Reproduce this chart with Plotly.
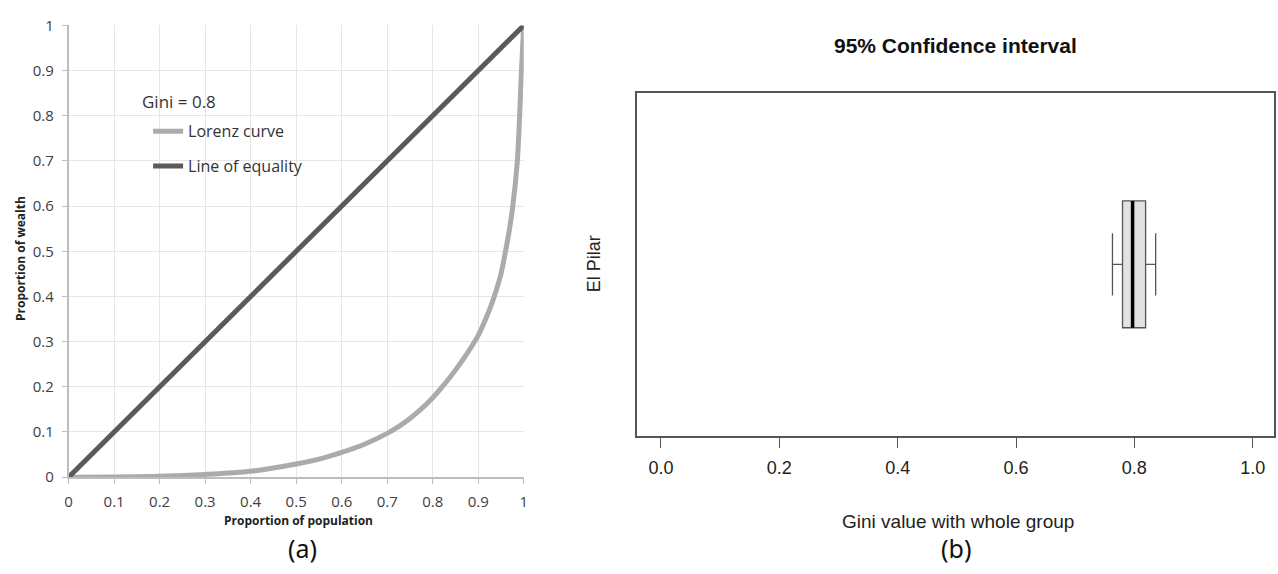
import plotly.graph_objects as go

# ---- Data: panel (a) Lorenz curve ----
pop_share = [0, 0.1, 0.2, 0.3, 0.4, 0.5, 0.55, 0.6, 0.65, 0.7, 0.725, 0.75, 0.775, 0.8,
             0.825, 0.85, 0.875, 0.9, 0.915, 0.93, 0.94, 0.95, 0.96, 0.968, 0.976, 0.986,
             0.991, 0.995, 1.0]
wealth_share = [0, 0.0005, 0.002, 0.006, 0.013, 0.029, 0.04, 0.055, 0.073, 0.097, 0.112,
                0.130, 0.151, 0.176, 0.205, 0.237, 0.273, 0.314, 0.347, 0.385, 0.415, 0.45,
                0.5, 0.545, 0.6, 0.7, 0.8, 0.9, 1.0]
equality_x = [0, 1]
equality_y = [0, 1]
gini_label = "Gini = 0.8"
axis_ticks_a = [0, 0.1, 0.2, 0.3, 0.4, 0.5, 0.6, 0.7, 0.8, 0.9, 1]
tick_text_a = ["0", "0.1", "0.2", "0.3", "0.4", "0.5", "0.6", "0.7", "0.8", "0.9", "1"]

# ---- Data: panel (b) 95% CI of Gini ----
group_name = "El Pilar"
ci_lower = 0.763
ci_q1 = 0.780
ci_median = 0.797
ci_q3 = 0.819
ci_upper = 0.836
ticks_b = [0.0, 0.2, 0.4, 0.6, 0.8, 1.0]

W, H = 1278, 574
BOX_WIDTH = 0.37

def px_x(p):
    return p / W

def px_y(p):
    return 1 - p / H

fig = go.Figure()

fig.add_trace(go.Scatter(
    x=pop_share, y=wealth_share, mode="lines", name="Lorenz curve",
    line=dict(color="#ababab", width=5, shape="spline", smoothing=0.8),
    xaxis="x", yaxis="y", legendgroup="a", showlegend=True))
fig.add_trace(go.Scatter(
    x=equality_x, y=equality_y, mode="lines", name="Line of equality",
    line=dict(color="#5a5a5a", width=5),
    xaxis="x", yaxis="y", legendgroup="b", showlegend=True))

fig.add_trace(go.Box(
    y=[0], q1=[ci_q1], median=[ci_median], q3=[ci_q3],
    lowerfence=[ci_lower], upperfence=[ci_upper],
    orientation="h", width=BOX_WIDTH, whiskerwidth=0.49,
    fillcolor="#e2e2e2", line=dict(color="#555555", width=1.3),
    boxpoints=False, xaxis="x2", yaxis="y2", showlegend=False, hoverinfo="skip"))
fig.add_trace(go.Scatter(
    x=[ci_median, ci_median], y=[-BOX_WIDTH / 2, BOX_WIDTH / 2], mode="lines",
    line=dict(color="#000000", width=3.5), xaxis="x2", yaxis="y2",
    showlegend=False, hoverinfo="skip"))

tick_font_a = dict(family="Open Sans, Lato, sans-serif", size=15, color="#404040")
fig.update_layout(
    width=W, height=H, margin=dict(l=0, r=0, t=0, b=0),
    paper_bgcolor="white", plot_bgcolor="white",
    xaxis=dict(domain=[px_x(65), px_x(523)], range=[0, 1], tickvals=axis_ticks_a,
               ticktext=tick_text_a, showgrid=True, gridcolor="#e6e6e6", gridwidth=1,
               zeroline=False, showline=True, linecolor="#bdbdbd", linewidth=1.5,
               ticks="outside", ticklen=5, tickcolor="#bdbdbd", tickfont=tick_font_a,
               ticklabelstandoff=5, anchor="y", fixedrange=True),
    yaxis=dict(domain=[px_y(483), px_y(15)], range=[0, 1], tickvals=axis_ticks_a,
               ticktext=tick_text_a, showgrid=True, gridcolor="#e6e6e6", gridwidth=1,
               zeroline=False, showline=True, linecolor="#bdbdbd", linewidth=1.5,
               ticks="outside", ticklen=5, tickcolor="#bdbdbd", tickfont=tick_font_a,
               ticklabelstandoff=5, anchor="x", fixedrange=True),
    xaxis2=dict(domain=[px_x(637), 1.0], range=[-0.0405, 1.036], tickvals=ticks_b,
                tickformat=".1f", showgrid=False, zeroline=False, showline=True,
                mirror=True, linecolor="#555555", linewidth=1.5, ticks="outside",
                ticklen=11, tickwidth=1.2, tickcolor="#555555", ticklabelstandoff=4,
                tickfont=dict(family="Liberation Sans, Arial, sans-serif", size=18, color="#222222"),
                anchor="y2", fixedrange=True),
    yaxis2=dict(domain=[px_y(440), px_y(85)], range=[-0.5, 0.5], showgrid=False,
                zeroline=False, showline=True, mirror=True, linecolor="#555555",
                linewidth=1.5, showticklabels=False, ticks="", anchor="x2", fixedrange=True),
    legend=dict(x=px_x(145), y=px_y(107), xanchor="left", yanchor="top",
                bgcolor="rgba(0,0,0,0)", borderwidth=0, tracegroupgap=11,
                traceorder="grouped", itemwidth=30,
                font=dict(family="Open Sans, Lato, sans-serif", size=16, color="#333333")),
)

annos = [
    dict(text=gini_label, x=px_x(137), y=px_y(94), xanchor="left", yanchor="middle",
         font=dict(family="Open Sans, Lato, sans-serif", size=17, color="#333333")),
    dict(text="<b>Proportion of population</b>", x=px_x(296), y=px_y(528),
         xanchor="center", yanchor="middle",
         font=dict(family="Open Sans, Lato, sans-serif", size=12, color="#222222")),
    dict(text="<b>Proportion of wealth</b>", x=px_x(16), y=px_y(256), textangle=-90,
         xanchor="center", yanchor="middle",
         font=dict(family="Open Sans, Lato, sans-serif", size=12, color="#222222")),
    dict(text="(a)", x=px_x(300), y=px_y(556), xanchor="center", yanchor="middle",
         font=dict(family="Noto Sans, DejaVu Sans, sans-serif", size=25, color="#111111")),
    dict(text="<b>95% Confidence interval</b>", x=px_x(957), y=px_y(36),
         xanchor="center", yanchor="middle",
         font=dict(family="Liberation Sans, Arial, sans-serif", size=21, color="#111111")),
    dict(text=group_name, x=px_x(594), y=px_y(262), textangle=-90,
         xanchor="center", yanchor="middle",
         font=dict(family="Liberation Sans, Arial, sans-serif", size=18, color="#222222")),
    dict(text="Gini value with whole group", x=px_x(960), y=px_y(529),
         xanchor="center", yanchor="middle",
         font=dict(family="Liberation Sans, Arial, sans-serif", size=19, color="#222222")),
    dict(text="(b)", x=px_x(958), y=px_y(556), xanchor="center", yanchor="middle",
         font=dict(family="Noto Sans, DejaVu Sans, sans-serif", size=25, color="#111111")),
]
for a in annos:
    a.update(xref="paper", yref="paper", showarrow=False)
fig.update_layout(annotations=annos)

fig.write_html("out.html")
